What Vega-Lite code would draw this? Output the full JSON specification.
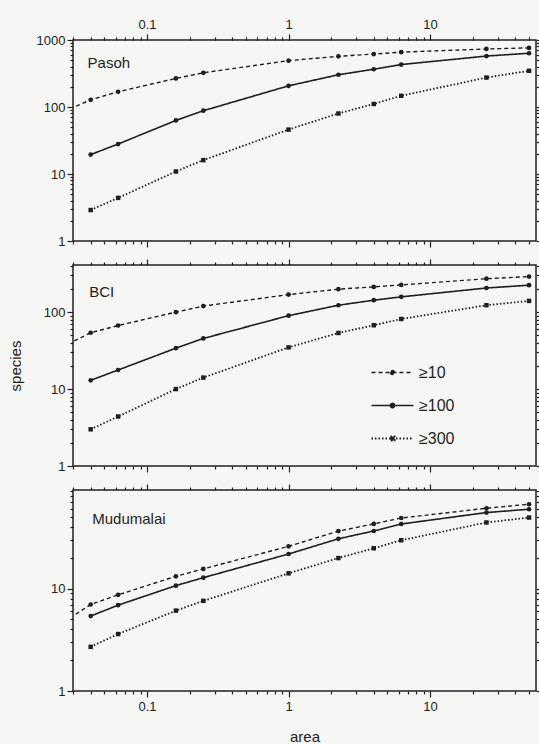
{
  "$schema": "https://vega.github.io/schema/vega-lite/v6.json",
  "background": "#f6f6f4",
  "padding": {"left": 7, "right": 0, "top": 17, "bottom": 0},
  "config": {
    "view": {"stroke": "#222", "strokeWidth": 1.5},
    "font": "Liberation Sans",
    "axis": {"labelFont": "Liberation Sans", "titleFont": "Liberation Sans", "labelColor": "#222", "tickColor": "#222", "titleColor": "#222", "titleFontWeight": "normal", "tickWidth": 1.2, "domain": false, "grid": false, "labelOverlap": false, "labelFlush": false, "labelFontSize": 13}
  },
  "datasets": {
    "d": [
      {"site": "Pasoh", "cls": "≥10", "area": 0.01, "species": 36},
      {"site": "Pasoh", "cls": "≥10", "area": 0.04, "species": 128},
      {"site": "Pasoh", "cls": "≥10", "area": 0.0625, "species": 169},
      {"site": "Pasoh", "cls": "≥10", "area": 0.16, "species": 267},
      {"site": "Pasoh", "cls": "≥10", "area": 0.25, "species": 324},
      {"site": "Pasoh", "cls": "≥10", "area": 1, "species": 492},
      {"site": "Pasoh", "cls": "≥10", "area": 2.25, "species": 571},
      {"site": "Pasoh", "cls": "≥10", "area": 4, "species": 617},
      {"site": "Pasoh", "cls": "≥10", "area": 6.25, "species": 659},
      {"site": "Pasoh", "cls": "≥10", "area": 25, "species": 735},
      {"site": "Pasoh", "cls": "≥10", "area": 50, "species": 762},
      {"site": "Pasoh", "cls": "≥100", "area": 0.04, "species": 19.5},
      {"site": "Pasoh", "cls": "≥100", "area": 0.0625, "species": 28},
      {"site": "Pasoh", "cls": "≥100", "area": 0.16, "species": 63},
      {"site": "Pasoh", "cls": "≥100", "area": 0.25, "species": 88},
      {"site": "Pasoh", "cls": "≥100", "area": 1, "species": 207},
      {"site": "Pasoh", "cls": "≥100", "area": 2.25, "species": 303},
      {"site": "Pasoh", "cls": "≥100", "area": 4, "species": 366},
      {"site": "Pasoh", "cls": "≥100", "area": 6.25, "species": 430},
      {"site": "Pasoh", "cls": "≥100", "area": 25, "species": 576},
      {"site": "Pasoh", "cls": "≥100", "area": 50, "species": 634},
      {"site": "Pasoh", "cls": "≥300", "area": 0.04, "species": 2.9},
      {"site": "Pasoh", "cls": "≥300", "area": 0.0625, "species": 4.4},
      {"site": "Pasoh", "cls": "≥300", "area": 0.16, "species": 10.9},
      {"site": "Pasoh", "cls": "≥300", "area": 0.25, "species": 16.1},
      {"site": "Pasoh", "cls": "≥300", "area": 1, "species": 46},
      {"site": "Pasoh", "cls": "≥300", "area": 2.25, "species": 80},
      {"site": "Pasoh", "cls": "≥300", "area": 4, "species": 111},
      {"site": "Pasoh", "cls": "≥300", "area": 6.25, "species": 147},
      {"site": "Pasoh", "cls": "≥300", "area": 25, "species": 275},
      {"site": "Pasoh", "cls": "≥300", "area": 50, "species": 347},
      {"site": "BCI", "cls": "≥10", "area": 0.01, "species": 15},
      {"site": "BCI", "cls": "≥10", "area": 0.04, "species": 54},
      {"site": "BCI", "cls": "≥10", "area": 0.0625, "species": 67},
      {"site": "BCI", "cls": "≥10", "area": 0.16, "species": 100},
      {"site": "BCI", "cls": "≥10", "area": 0.25, "species": 120},
      {"site": "BCI", "cls": "≥10", "area": 1, "species": 169},
      {"site": "BCI", "cls": "≥10", "area": 2.25, "species": 199},
      {"site": "BCI", "cls": "≥10", "area": 4, "species": 213},
      {"site": "BCI", "cls": "≥10", "area": 6.25, "species": 226},
      {"site": "BCI", "cls": "≥10", "area": 25, "species": 272},
      {"site": "BCI", "cls": "≥10", "area": 50, "species": 290},
      {"site": "BCI", "cls": "≥100", "area": 0.04, "species": 13},
      {"site": "BCI", "cls": "≥100", "area": 0.0625, "species": 17.7},
      {"site": "BCI", "cls": "≥100", "area": 0.16, "species": 34},
      {"site": "BCI", "cls": "≥100", "area": 0.25, "species": 45.5},
      {"site": "BCI", "cls": "≥100", "area": 1, "species": 90},
      {"site": "BCI", "cls": "≥100", "area": 2.25, "species": 123},
      {"site": "BCI", "cls": "≥100", "area": 4, "species": 143},
      {"site": "BCI", "cls": "≥100", "area": 6.25, "species": 158},
      {"site": "BCI", "cls": "≥100", "area": 25, "species": 206},
      {"site": "BCI", "cls": "≥100", "area": 50, "species": 224},
      {"site": "BCI", "cls": "≥300", "area": 0.04, "species": 3.0},
      {"site": "BCI", "cls": "≥300", "area": 0.0625, "species": 4.4},
      {"site": "BCI", "cls": "≥300", "area": 0.16, "species": 10},
      {"site": "BCI", "cls": "≥300", "area": 0.25, "species": 14.1},
      {"site": "BCI", "cls": "≥300", "area": 1, "species": 34.8},
      {"site": "BCI", "cls": "≥300", "area": 2.25, "species": 53.6},
      {"site": "BCI", "cls": "≥300", "area": 4, "species": 67.5},
      {"site": "BCI", "cls": "≥300", "area": 6.25, "species": 81.5},
      {"site": "BCI", "cls": "≥300", "area": 25, "species": 123},
      {"site": "BCI", "cls": "≥300", "area": 50, "species": 140},
      {"site": "Mudumalai", "cls": "≥10", "area": 0.01, "species": 2},
      {"site": "Mudumalai", "cls": "≥10", "area": 0.04, "species": 7.0},
      {"site": "Mudumalai", "cls": "≥10", "area": 0.0625, "species": 8.7},
      {"site": "Mudumalai", "cls": "≥10", "area": 0.16, "species": 13.2},
      {"site": "Mudumalai", "cls": "≥10", "area": 0.25, "species": 15.6},
      {"site": "Mudumalai", "cls": "≥10", "area": 1, "species": 25.9},
      {"site": "Mudumalai", "cls": "≥10", "area": 2.25, "species": 36.5},
      {"site": "Mudumalai", "cls": "≥10", "area": 4, "species": 42.9},
      {"site": "Mudumalai", "cls": "≥10", "area": 6.25, "species": 49},
      {"site": "Mudumalai", "cls": "≥10", "area": 25, "species": 61},
      {"site": "Mudumalai", "cls": "≥10", "area": 50, "species": 66.8},
      {"site": "Mudumalai", "cls": "≥100", "area": 0.04, "species": 5.4},
      {"site": "Mudumalai", "cls": "≥100", "area": 0.0625, "species": 6.9},
      {"site": "Mudumalai", "cls": "≥100", "area": 0.16, "species": 10.7},
      {"site": "Mudumalai", "cls": "≥100", "area": 0.25, "species": 12.8},
      {"site": "Mudumalai", "cls": "≥100", "area": 1, "species": 21.8},
      {"site": "Mudumalai", "cls": "≥100", "area": 2.25, "species": 30.7},
      {"site": "Mudumalai", "cls": "≥100", "area": 4, "species": 36.6},
      {"site": "Mudumalai", "cls": "≥100", "area": 6.25, "species": 42.8},
      {"site": "Mudumalai", "cls": "≥100", "area": 25, "species": 55.4},
      {"site": "Mudumalai", "cls": "≥100", "area": 50, "species": 59.7},
      {"site": "Mudumalai", "cls": "≥300", "area": 0.04, "species": 2.7},
      {"site": "Mudumalai", "cls": "≥300", "area": 0.0625, "species": 3.6},
      {"site": "Mudumalai", "cls": "≥300", "area": 0.16, "species": 6.1},
      {"site": "Mudumalai", "cls": "≥300", "area": 0.25, "species": 7.6},
      {"site": "Mudumalai", "cls": "≥300", "area": 1, "species": 14.1},
      {"site": "Mudumalai", "cls": "≥300", "area": 2.25, "species": 19.9},
      {"site": "Mudumalai", "cls": "≥300", "area": 4, "species": 24.8},
      {"site": "Mudumalai", "cls": "≥300", "area": 6.25, "species": 29.7},
      {"site": "Mudumalai", "cls": "≥300", "area": 25, "species": 44.3},
      {"site": "Mudumalai", "cls": "≥300", "area": 50, "species": 49.5}
    ]
  },
  "spacing": 24,
  "bounds": "flush",
  "resolve": {"scale": {"x": "independent", "y": "independent", "strokeDash": "independent", "strokeWidth": "independent"}},
  "vconcat": [
    {
      "width": 463, "height": 201,
      "resolve": {"axis": {"x": "independent", "y": "independent"}},
      "layer": [
        {
          "data": {"name": "d"},
          "transform": [{"filter": "datum.site === 'Pasoh'"}],
          "mark": {"type": "line", "clip": true, "color": "#1e1e1e"},
          "encoding": {
            "x": {"field": "area", "type": "quantitative", "scale": {"type": "log", "domain": [0.03, 56], "nice": false},
              "axis": {"orient": "bottom", "labels": false, "title": null, "values": [0.03,0.04,0.05,0.06,0.07,0.08,0.09,0.1,0.2,0.3,0.4,0.5,0.6,0.7,0.8,0.9,1,2,3,4,5,6,7,8,9,10,20,30,40,50],
                "tickSize": {"condition": {"test": "abs(log(datum.value)/LN10 - round(log(datum.value)/LN10)) < 0.001", "value": 6}, "value": 3}}},
            "y": {"field": "species", "type": "quantitative", "scale": {"type": "log", "domain": [1, 1000], "nice": false},
              "axis": {"orient": "left", "title": null, "format": "~g", "labelPadding": 2, "values": [1,2,3,4,5,6,7,8,9,10,20,30,40,50,60,70,80,90,100,200,300,400,500,600,700,800,900,1000],
                "labelExpr": "abs(log(datum.value)/LN10 - round(log(datum.value)/LN10)) < 0.001 ? datum.label : ''",
                "tickSize": {"condition": {"test": "abs(log(datum.value)/LN10 - round(log(datum.value)/LN10)) < 0.001", "value": 6}, "value": 3}}},
            "strokeDash": {"field": "cls", "type": "nominal", "scale": {"domain": ["≥10", "≥100", "≥300"], "range": [[4, 3], [1, 0], [1.5, 2]]}, "legend": null},
            "strokeWidth": {"field": "cls", "type": "nominal", "scale": {"domain": ["≥10", "≥100", "≥300"], "range": [1.4, 1.8, 1.4]}, "legend": null}
          }
        },
        {
          "data": {"name": "d"},
          "transform": [{"filter": "datum.site === 'Pasoh' && datum.cls !== '≥300'"}],
          "mark": {"type": "point", "shape": "circle", "filled": true, "clip": true, "color": "#1e1e1e", "opacity": 1, "size": 22},
          "encoding": {
            "x": {"field": "area", "type": "quantitative", "scale": {"type": "log", "domain": [0.03, 56], "nice": false},
              "axis": {"orient": "top", "title": null, "format": "~g", "labelPadding": 3, "values": [0.03,0.04,0.05,0.06,0.07,0.08,0.09,0.1,0.2,0.3,0.4,0.5,0.6,0.7,0.8,0.9,1,2,3,4,5,6,7,8,9,10,20,30,40,50],
                "labelExpr": "abs(log(datum.value)/LN10 - round(log(datum.value)/LN10)) < 0.001 ? datum.label : ''",
                "tickSize": {"condition": {"test": "abs(log(datum.value)/LN10 - round(log(datum.value)/LN10)) < 0.001", "value": 6}, "value": 3}}},
            "y": {"field": "species", "type": "quantitative", "scale": {"type": "log", "domain": [1, 1000], "nice": false},
              "axis": {"orient": "right", "title": null, "labels": false, "tickSize": 3, "values": [1,2,3,4,5,6,7,8,9,10,20,30,40,50,60,70,80,90,100,200,300,400,500,600,700,800,900,1000]}}
          }
        },
        {
          "data": {"name": "d"},
          "transform": [{"filter": "datum.site === 'Pasoh' && datum.cls === '≥300'"}],
          "mark": {"type": "point", "shape": "square", "filled": true, "clip": true, "color": "#1e1e1e", "opacity": 1, "size": 20},
          "encoding": {
            "x": {"field": "area", "type": "quantitative", "scale": {"type": "log", "domain": [0.03, 56], "nice": false}, "axis": null},
            "y": {"field": "species", "type": "quantitative", "scale": {"type": "log", "domain": [1, 1000], "nice": false}, "axis": null}
          }
        },
        {
          "data": {"values": [{"name": "Pasoh"}]},
          "mark": {"type": "text", "align": "left", "baseline": "middle", "fontSize": 15, "color": "#1e1e1e", "font": "Liberation Sans"},
          "encoding": {
            "x": {"datum": 0.038, "type": "quantitative", "scale": {"type": "log", "domain": [0.03, 56], "nice": false}, "axis": null},
            "y": {"datum": 450, "type": "quantitative", "scale": {"type": "log", "domain": [1, 1000], "nice": false}, "axis": null},
            "text": {"field": "name"}
          }
        }
      ]
    },
    {
      "width": 463, "height": 201,
      "resolve": {"axis": {"x": "independent", "y": "independent"}},
      "layer": [
        {
          "data": {"name": "d"},
          "transform": [{"filter": "datum.site === 'BCI'"}],
          "mark": {"type": "line", "clip": true, "color": "#1e1e1e"},
          "encoding": {
            "x": {"field": "area", "type": "quantitative", "scale": {"type": "log", "domain": [0.03, 56], "nice": false},
              "axis": {"orient": "bottom", "labels": false, "title": null, "values": [0.03,0.04,0.05,0.06,0.07,0.08,0.09,0.1,0.2,0.3,0.4,0.5,0.6,0.7,0.8,0.9,1,2,3,4,5,6,7,8,9,10,20,30,40,50],
                "tickSize": {"condition": {"test": "abs(log(datum.value)/LN10 - round(log(datum.value)/LN10)) < 0.001", "value": 6}, "value": 3}}},
            "y": {"field": "species", "type": "quantitative", "scale": {"type": "log", "domain": [1, 410], "nice": false},
              "axis": {"orient": "left", "title": "species", "titleFontSize": 15, "titlePadding": 20, "format": "~g", "labelPadding": 2, "values": [1,2,3,4,5,6,7,8,9,10,20,30,40,50,60,70,80,90,100,200,300,400],
                "labelExpr": "abs(log(datum.value)/LN10 - round(log(datum.value)/LN10)) < 0.001 ? datum.label : ''",
                "tickSize": {"condition": {"test": "abs(log(datum.value)/LN10 - round(log(datum.value)/LN10)) < 0.001", "value": 6}, "value": 3}}},
            "strokeDash": {"field": "cls", "type": "nominal", "scale": {"domain": ["≥10", "≥100", "≥300"], "range": [[4, 3], [1, 0], [1.5, 2]]},
              "legend": {"orient": "none", "legendX": 308, "legendY": 96, "title": null, "padding": 0,
                "symbolType": "M-2,0H2M-0.2,0a0.2,0.2 0 1,0 0.4,0a0.2,0.2 0 1,0 -0.4,0", "symbolSize": 441,
                "symbolStrokeColor": "#1e1e1e", "symbolFillColor": "#1e1e1e", "symbolStrokeWidth": 1.5,
                "labelFont": "Liberation Sans", "labelFontSize": 16, "labelColor": "#1e1e1e", "labelOffset": 15, "rowPadding": 13,
                "encode": {"symbols": {"update": {"shape": {"signal": "datum.value === '≥300' ? 'M-2,0H2M-0.2,-0.2h0.4v0.4h-0.4z' : 'M-2,0H2M-0.2,0a0.2,0.2 0 1,0 0.4,0a0.2,0.2 0 1,0 -0.4,0'"}, "fill": {"value": "#1e1e1e"}, "stroke": {"value": "#1e1e1e"}}}}}},
            "strokeWidth": {"field": "cls", "type": "nominal", "scale": {"domain": ["≥10", "≥100", "≥300"], "range": [1.4, 1.8, 1.4]}, "legend": null}
          }
        },
        {
          "data": {"name": "d"},
          "transform": [{"filter": "datum.site === 'BCI' && datum.cls !== '≥300'"}],
          "mark": {"type": "point", "shape": "circle", "filled": true, "clip": true, "color": "#1e1e1e", "opacity": 1, "size": 22},
          "encoding": {
            "x": {"field": "area", "type": "quantitative", "scale": {"type": "log", "domain": [0.03, 56], "nice": false},
              "axis": {"orient": "top", "title": null, "labels": false, "values": [0.03,0.04,0.05,0.06,0.07,0.08,0.09,0.1,0.2,0.3,0.4,0.5,0.6,0.7,0.8,0.9,1,2,3,4,5,6,7,8,9,10,20,30,40,50],
                "tickSize": {"condition": {"test": "abs(log(datum.value)/LN10 - round(log(datum.value)/LN10)) < 0.001", "value": 6}, "value": 3}}},
            "y": {"field": "species", "type": "quantitative", "scale": {"type": "log", "domain": [1, 410], "nice": false},
              "axis": {"orient": "right", "title": null, "labels": false, "tickSize": 3, "values": [1,2,3,4,5,6,7,8,9,10,20,30,40,50,60,70,80,90,100,200,300,400]}}
          }
        },
        {
          "data": {"name": "d"},
          "transform": [{"filter": "datum.site === 'BCI' && datum.cls === '≥300'"}],
          "mark": {"type": "point", "shape": "square", "filled": true, "clip": true, "color": "#1e1e1e", "opacity": 1, "size": 20},
          "encoding": {
            "x": {"field": "area", "type": "quantitative", "scale": {"type": "log", "domain": [0.03, 56], "nice": false}, "axis": null},
            "y": {"field": "species", "type": "quantitative", "scale": {"type": "log", "domain": [1, 410], "nice": false}, "axis": null}
          }
        },
        {
          "data": {"values": [{"name": "BCI"}]},
          "mark": {"type": "text", "align": "left", "baseline": "middle", "fontSize": 15, "color": "#1e1e1e", "font": "Liberation Sans"},
          "encoding": {
            "x": {"datum": 0.039, "type": "quantitative", "scale": {"type": "log", "domain": [0.03, 56], "nice": false}, "axis": null},
            "y": {"datum": 184, "type": "quantitative", "scale": {"type": "log", "domain": [1, 410], "nice": false}, "axis": null},
            "text": {"field": "name"}
          }
        }
      ]
    },
    {
      "width": 463, "height": 201,
      "resolve": {"axis": {"x": "independent", "y": "independent"}},
      "layer": [
        {
          "data": {"name": "d"},
          "transform": [{"filter": "datum.site === 'Mudumalai'"}],
          "mark": {"type": "line", "clip": true, "color": "#1e1e1e"},
          "encoding": {
            "x": {"field": "area", "type": "quantitative", "scale": {"type": "log", "domain": [0.03, 56], "nice": false},
              "axis": {"orient": "bottom", "title": "area", "titleFontSize": 15, "titlePadding": 16, "format": "~g", "labelPadding": 3, "values": [0.03,0.04,0.05,0.06,0.07,0.08,0.09,0.1,0.2,0.3,0.4,0.5,0.6,0.7,0.8,0.9,1,2,3,4,5,6,7,8,9,10,20,30,40,50],
                "labelExpr": "abs(log(datum.value)/LN10 - round(log(datum.value)/LN10)) < 0.001 ? datum.label : ''",
                "tickSize": {"condition": {"test": "abs(log(datum.value)/LN10 - round(log(datum.value)/LN10)) < 0.001", "value": 6}, "value": 3}}},
            "y": {"field": "species", "type": "quantitative", "scale": {"type": "log", "domain": [1, 92], "nice": false},
              "axis": {"orient": "left", "title": null, "format": "~g", "labelPadding": 2, "values": [1,2,3,4,5,6,7,8,9,10,20,30,40,50,60,70,80,90],
                "labelExpr": "abs(log(datum.value)/LN10 - round(log(datum.value)/LN10)) < 0.001 ? datum.label : ''",
                "tickSize": {"condition": {"test": "abs(log(datum.value)/LN10 - round(log(datum.value)/LN10)) < 0.001", "value": 6}, "value": 3}}},
            "strokeDash": {"field": "cls", "type": "nominal", "scale": {"domain": ["≥10", "≥100", "≥300"], "range": [[4, 3], [1, 0], [1.5, 2]]}, "legend": null},
            "strokeWidth": {"field": "cls", "type": "nominal", "scale": {"domain": ["≥10", "≥100", "≥300"], "range": [1.4, 1.8, 1.4]}, "legend": null}
          }
        },
        {
          "data": {"name": "d"},
          "transform": [{"filter": "datum.site === 'Mudumalai' && datum.cls !== '≥300'"}],
          "mark": {"type": "point", "shape": "circle", "filled": true, "clip": true, "color": "#1e1e1e", "opacity": 1, "size": 22},
          "encoding": {
            "x": {"field": "area", "type": "quantitative", "scale": {"type": "log", "domain": [0.03, 56], "nice": false},
              "axis": {"orient": "top", "title": null, "labels": false, "values": [0.03,0.04,0.05,0.06,0.07,0.08,0.09,0.1,0.2,0.3,0.4,0.5,0.6,0.7,0.8,0.9,1,2,3,4,5,6,7,8,9,10,20,30,40,50],
                "tickSize": {"condition": {"test": "abs(log(datum.value)/LN10 - round(log(datum.value)/LN10)) < 0.001", "value": 6}, "value": 3}}},
            "y": {"field": "species", "type": "quantitative", "scale": {"type": "log", "domain": [1, 92], "nice": false},
              "axis": {"orient": "right", "title": null, "labels": false, "tickSize": 3, "values": [1,2,3,4,5,6,7,8,9,10,20,30,40,50,60,70,80,90]}}
          }
        },
        {
          "data": {"name": "d"},
          "transform": [{"filter": "datum.site === 'Mudumalai' && datum.cls === '≥300'"}],
          "mark": {"type": "point", "shape": "square", "filled": true, "clip": true, "color": "#1e1e1e", "opacity": 1, "size": 20},
          "encoding": {
            "x": {"field": "area", "type": "quantitative", "scale": {"type": "log", "domain": [0.03, 56], "nice": false}, "axis": null},
            "y": {"field": "species", "type": "quantitative", "scale": {"type": "log", "domain": [1, 92], "nice": false}, "axis": null}
          }
        },
        {
          "data": {"values": [{"name": "Mudumalai"}]},
          "mark": {"type": "text", "align": "left", "baseline": "middle", "fontSize": 15, "color": "#1e1e1e", "font": "Liberation Sans"},
          "encoding": {
            "x": {"datum": 0.041, "type": "quantitative", "scale": {"type": "log", "domain": [0.03, 56], "nice": false}, "axis": null},
            "y": {"datum": 48, "type": "quantitative", "scale": {"type": "log", "domain": [1, 92], "nice": false}, "axis": null},
            "text": {"field": "name"}
          }
        }
      ]
    }
  ]
}
